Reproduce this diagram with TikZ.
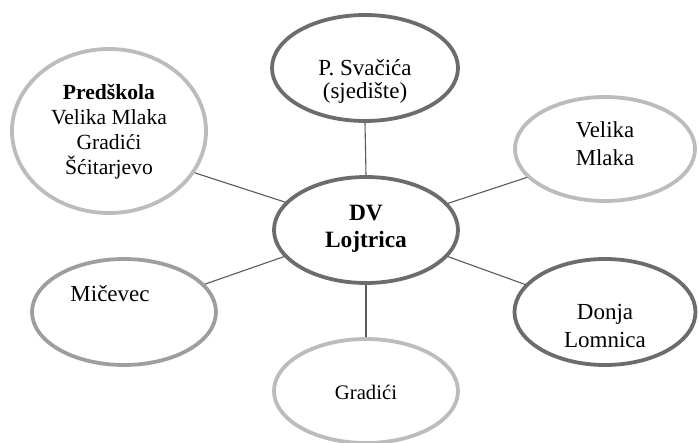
\documentclass[tikz,border=0pt]{standalone}
\usepackage{fontspec}
\setmainfont{Liberation Serif}
\usetikzlibrary{shapes.geometric}
\definecolor{darkring}{RGB}{108,108,108}
\definecolor{lightring}{RGB}{188,188,188}
\definecolor{midring}{RGB}{158,158,158}
\definecolor{linkgray}{RGB}{90,90,90}
\tikzset{
  ring/.style={ellipse, draw, line width=3.8pt, inner sep=0pt, fill=white},
  darkr/.style={ring, draw=darkring},
  lightr/.style={ring, draw=lightring},
  midr/.style={ring, draw=midring},
  txt/.style={align=center, inner sep=0pt, text=black},
  link/.style={draw=linkgray, line width=1.1pt}
}
\begin{document}
\begin{tikzpicture}[x=1pt,y=-1pt]
\useasboundingbox (0,0) rectangle (699,443);
% rings
\node[darkr, minimum width=184pt, minimum height=106pt] (C) at (366,230) {};
\node[darkr, minimum width=186pt, minimum height=106pt] (P) at (365,68) {};
\node[lightr, minimum width=194pt, minimum height=164pt] (Pr) at (109,131) {};
\node[lightr, minimum width=180pt, minimum height=104pt] (VM) at (605,149) {};
\node[midr, minimum width=184pt, minimum height=106pt] (M) at (124,312) {};
\node[darkr, minimum width=181pt, minimum height=106pt] (DL) at (605,312) {};
\node[lightr, minimum width=184pt, minimum height=104pt] (G) at (366,391) {};
% connectors
\draw[link] (C.north) -- (P.south);
\draw[link] (C.south) -- (G.north);
\draw[link] (C.161) -- (Pr.-26);
\draw[link] (C.18.5) -- (VM.-160.5);
\draw[link] (C.198.6) -- (M.19);
\draw[link] (C.-18.9) -- (DL.161);
% texts
\node[txt, font=\fontsize{23.4}{27}\selectfont\bfseries] (tC) at (366,229) {DV\\Lojtrica};
\node[txt, font=\fontsize{23}{23}\selectfont] (tP) at (365,81) {P. Svačića\\(sjedište)};
\node[txt, font=\fontsize{21.6}{25}\selectfont] (tPr) at (109,131.5) {\textbf{Predškola}\\Velika Mlaka\\Gradići\\Šćitarjevo};
\node[txt, font=\fontsize{22.8}{28}\selectfont] (tVM) at (605,143.5) {Velika\\Mlaka};
\node[txt, font=\fontsize{23}{28}\selectfont] (tDL) at (605,326) {Donja\\Lomnica};
\node[txt, font=\fontsize{23}{27}\selectfont, anchor=base] (tM) at (110,302) {Mičevec};
\node[txt, font=\fontsize{20.7}{25}\selectfont, anchor=base] (tG) at (366,400) {Gradići};
\end{tikzpicture}
\end{document}
